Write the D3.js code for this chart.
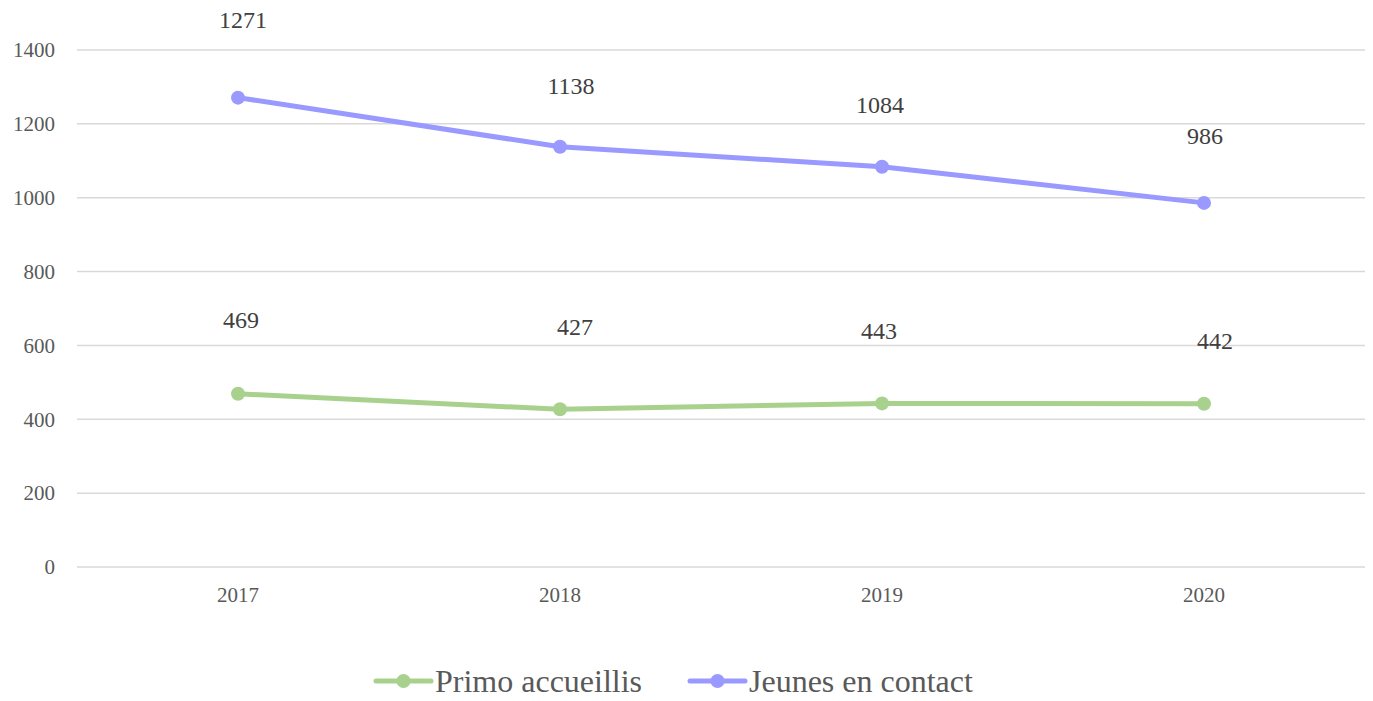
<!DOCTYPE html>
<html><head><meta charset="utf-8">
<script src="https://cdn.jsdelivr.net/npm/d3@7"></script>
<style>body{margin:0;background:#fff}svg{display:block}</style>
</head><body>
<svg id="c" width="1373" height="701"></svg>
<script>
const categories = ["2017","2018","2019","2020"];
const primo = [469,427,443,442];
const jeunes = [1271,1138,1084,986];
const yTicks = [0,200,400,600,800,1000,1200,1400];
const seriesNames = ["Primo accueillis","Jeunes en contact"];
// label vertical offsets (layout only)
const primoLabelDy = [-74,-82,-72,-63];
const jeunesLabelDy = [-78,-61,-62,-67];
const primoLabelDx = [3,15,-3,11];
const jeunesLabelDx = [5,11,-2,1];

const svg = d3.select("#c");
const font = "'Liberation Serif', 'DejaVu Serif', serif";
const L=77,R=1365,T=50,B=567;
const x = d3.scaleBand().domain(categories).range([L,R]).padding(0);
const y = d3.scaleLinear().domain([0,1400]).range([B,T]);
const cx = d => x(d)+x.bandwidth()/2;

const g = svg.append("g");
g.selectAll("line.grid").data(yTicks).enter().append("line")
  .attr("x1",L).attr("x2",R).attr("y1",d=>y(d)).attr("y2",d=>y(d))
  .attr("stroke","#d9d9d9").attr("stroke-width",1.5);

const ya = svg.append("g").attr("transform",`translate(${L},0)`)
  .call(d3.axisLeft(y).tickValues(yTicks).tickSize(0).tickPadding(22).tickFormat(d3.format("d")));
ya.select(".domain").remove();
ya.attr("font-size",null);
ya.selectAll("text").style("font-family",font).style("font-size","21px").attr("fill","#595959");

const xa = svg.append("g").attr("transform",`translate(0,${B})`)
  .call(d3.axisBottom(x).tickSize(0).tickPadding(20));
xa.select(".domain").remove();
xa.attr("font-size",null);
xa.selectAll("text").style("font-family",font).style("font-size","21px").attr("fill","#595959");

const series = [
  {vals:primo,color:"#a9d18e",dy:primoLabelDy,dx:primoLabelDx},
  {vals:jeunes,color:"#9999ff",dy:jeunesLabelDy,dx:jeunesLabelDx}
];
const line = d3.line().x((d,i)=>cx(categories[i])).y(d=>y(d));
series.forEach(s=>{
  svg.append("path").datum(s.vals).attr("d",line).attr("fill","none")
    .attr("stroke",s.color).attr("stroke-width",5).attr("stroke-linejoin","round").attr("stroke-linecap","round");
  svg.selectAll(null).data(s.vals).enter().append("circle")
    .attr("cx",(d,i)=>cx(categories[i])).attr("cy",d=>y(d)).attr("r",7).attr("fill",s.color);
  svg.selectAll(null).data(s.vals).enter().append("text")
    .attr("x",(d,i)=>cx(categories[i])+s.dx[i]).attr("y",(d,i)=>y(d)+s.dy[i])
    .attr("text-anchor","middle").attr("dominant-baseline","central")
    .attr("font-family",font).attr("font-size",24).attr("fill","#404040").text(d=>d);
});

// legend
const leg = [{name:seriesNames[0],color:"#a9d18e",x:376},{name:seriesNames[1],color:"#9999ff",x:690}];
leg.forEach(l=>{
  const lg = svg.append("g").attr("transform",`translate(${l.x},681)`);
  lg.append("line").attr("x1",0).attr("x2",55).attr("stroke",l.color).attr("stroke-width",5).attr("stroke-linecap","round");
  lg.append("circle").attr("cx",27.5).attr("r",7).attr("fill",l.color);
  lg.append("text").attr("x",59).attr("dominant-baseline","central").attr("font-family",font)
    .attr("font-size",32).attr("fill","#595959").text(l.name);
});
</script>
</body></html>
